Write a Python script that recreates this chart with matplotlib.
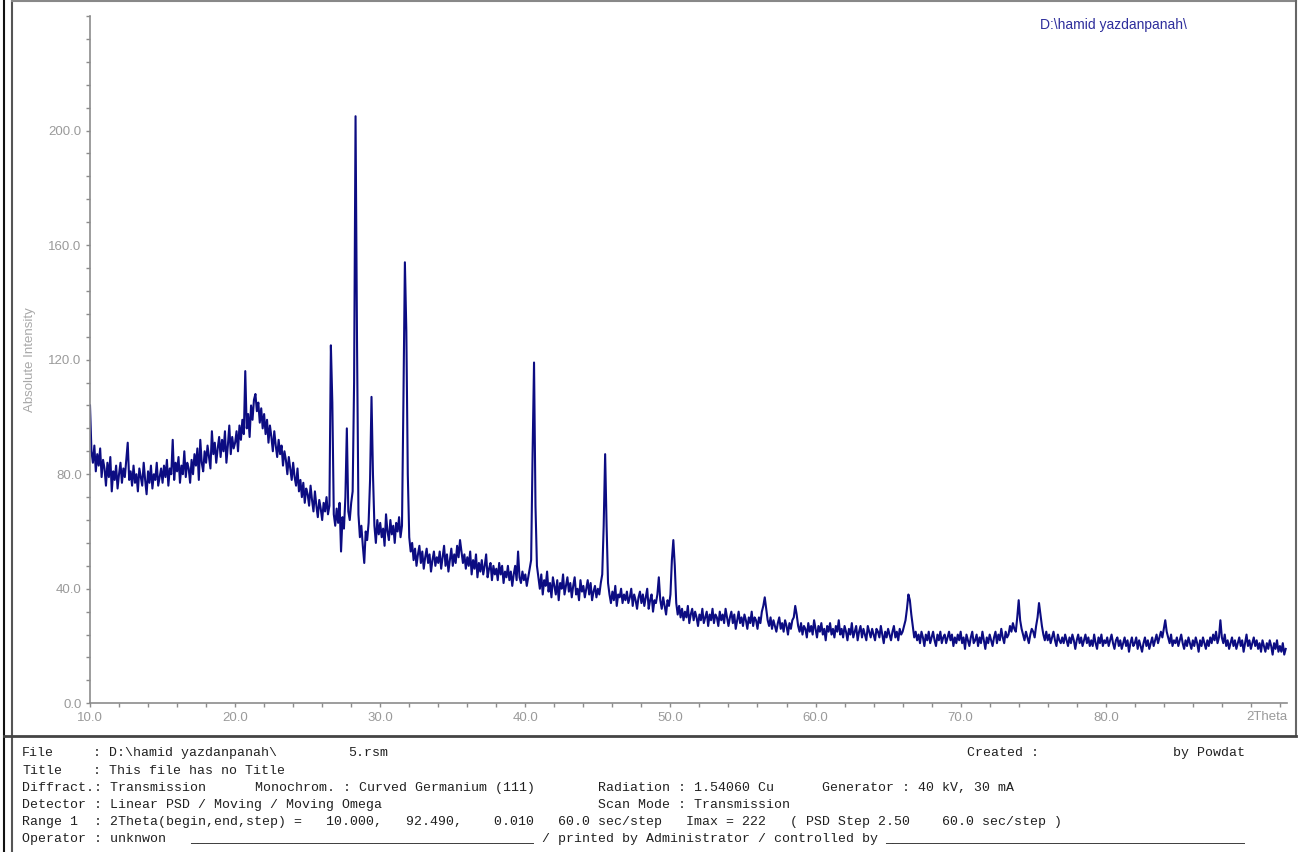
import numpy as np
import matplotlib.pyplot as plt
from matplotlib.ticker import MultipleLocator, FormatStrFormatter
from matplotlib.lines import Line2D

# --- Scan: 2Theta from 10.0 deg, counts read every 0.1 deg ---
START_2THETA = 10.0
STEP_2THETA = 0.1
END_2THETA = 92.49

counts = [
    104, 88, 84, 90, 81, 87, 83, 89, 79, 85,     # 10
    82, 76, 84, 79, 86, 74, 81, 78, 83, 75,      # 11
    80, 84, 77, 82, 79, 85, 91, 78, 81, 76,      # 12
    83, 77, 80, 74, 82, 79, 76, 84, 78, 73,      # 13
    81, 77, 83, 75, 80, 78, 84, 76, 79, 82,      # 14
    77, 83, 79, 85, 76, 82, 80, 92, 78, 84,      # 15
    81, 86, 77, 83, 80, 88, 79, 84, 82, 77,      # 16
    85, 80, 87, 83, 89, 78, 92, 84, 81, 88,      # 17
    84, 90, 86, 82, 95, 87, 91, 84, 89, 93,      # 18
    86, 92, 88, 95, 84, 90, 97, 87, 93, 89,      # 19
    91, 95, 88, 97, 92, 99, 94, 116, 96, 101,    # 20
    93, 104, 99, 106, 108, 102, 105, 98, 103, 96,  # 21
    101, 94, 99, 91, 97, 93, 88, 95, 90, 86,     # 22
    92, 87, 90, 83, 88, 85, 80, 86, 82, 78,      # 23
    84, 79, 76, 82, 74, 78, 72, 77, 70, 75,      # 24
    73, 69, 76, 71, 67, 74, 69, 65, 71, 68,      # 25
    64, 70, 67, 72, 66, 69, 125, 105, 66, 62,    # 26
    68, 63, 70, 53, 65, 61, 72, 96, 67, 64,      # 27
    70, 74, 112, 205, 127, 66, 58, 62, 55, 49,   # 28
    60, 57, 63, 78, 107, 80, 62, 56, 64, 59,     # 29
    63, 58, 61, 55, 66, 60, 57, 64, 59, 62,      # 30
    56, 63, 60, 65, 58, 62, 106, 154, 130, 80,   # 31
    58, 53, 56, 50, 54, 48, 52, 55, 49, 53,      # 32
    47, 51, 54, 49, 52, 46, 50, 53, 48, 51,      # 33
    49, 53, 47, 51, 55, 48, 52, 46, 50, 54,      # 34
    48, 52, 49, 55, 51, 57, 53, 49, 52, 47,      # 35
    51, 48, 53, 45, 50, 47, 52, 44, 49, 46,      # 36
    50, 45, 48, 52, 44, 47, 49, 43, 48, 45,      # 37
    47, 43, 49, 45, 48, 42, 46, 44, 48, 43,      # 38
    46, 41, 45, 48, 43, 53, 44, 42, 46, 43,      # 39
    45, 41, 44, 47, 50, 87, 119, 69, 48, 44,     # 40
    40, 45, 38, 43, 41, 46, 39, 42, 37, 44,      # 41
    41, 38, 43, 36, 42, 40, 45, 38, 41, 44,      # 42
    39, 42, 37, 41, 44, 38, 40, 36, 43, 39,      # 43
    41, 37, 40, 43, 38, 42, 36, 39, 41, 37,      # 44
    40, 38, 42, 45, 62, 87, 62, 42, 38, 35,      # 45
    39, 36, 41, 34, 38, 37, 40, 35, 38, 36,      # 46
    39, 35, 37, 40, 34, 38, 36, 33, 37, 39,      # 47
    35, 38, 34, 37, 40, 33, 36, 38, 32, 36,      # 48
    35, 38, 44, 36, 33, 37, 34, 31, 36, 34,      # 49
    38, 50, 57, 48, 35, 31, 34, 30, 33, 29,      # 50
    32, 30, 34, 28, 31, 33, 29, 32, 30, 27,      # 51
    31, 29, 33, 28, 30, 32, 27, 31, 29, 33,      # 52
    28, 31, 30, 27, 32, 29, 31, 28, 33, 30,      # 53
    27, 30, 32, 28, 31, 26, 29, 32, 28, 30,      # 54
    27, 31, 29, 26, 30, 28, 32, 27, 30, 29,      # 55
    26, 30, 28, 32, 34, 37, 33, 29, 27, 30,      # 56
    26, 29, 27, 25, 28, 30, 26, 28, 25, 29,      # 57
    27, 24, 28, 26, 29, 30, 34, 31, 27, 25,      # 58
    28, 24, 27, 26, 23, 28, 25, 27, 24, 29,      # 59
    26, 23, 27, 25, 28, 24, 26, 22, 27, 25,      # 60
    28, 24, 26, 23, 27, 25, 29, 24, 26, 23,      # 61
    27, 25, 22, 26, 24, 28, 23, 25, 27, 22,      # 62
    25, 27, 23, 26, 24, 22, 27, 25, 23, 26,      # 63
    24, 22, 26, 25, 23, 27, 24, 21, 25, 23,      # 64
    26, 24, 22, 25, 27, 23, 25, 22, 26, 24,      # 65
    25, 27, 29, 33, 38, 36, 31, 27, 23, 25,      # 66
    22, 24, 21, 25, 23, 20, 24, 22, 25, 21,      # 67
    23, 25, 22, 20, 24, 22, 25, 21, 23, 24,      # 68
    21, 23, 25, 22, 24, 20, 23, 21, 24, 22,      # 69
    25, 21, 23, 19, 24, 22, 20, 23, 25, 21,      # 70
    22, 24, 20, 23, 21, 25, 22, 19, 23, 21,      # 71
    24, 22, 20, 23, 25, 21, 24, 22, 26, 23,      # 72
    21, 25, 23, 24, 27, 25, 28, 26, 25, 30,      # 73
    36, 29, 26, 24, 22, 25, 23, 21, 24, 26,      # 74
    25, 23, 27, 30, 35, 31, 27, 24, 22, 25,      # 75
    22, 24, 21, 23, 25, 22, 20, 24, 22, 21,      # 76
    23, 21, 24, 22, 20, 23, 21, 24, 22, 19,      # 77
    22, 24, 21, 23, 20, 22, 24, 21, 23, 20,      # 78
    22, 20, 24, 21, 19, 23, 21, 24, 20, 22,      # 79
    21, 23, 20, 22, 24, 21, 19, 22, 23, 20,      # 80
    22, 19, 21, 23, 20, 22, 18, 21, 23, 20,      # 81
    21, 23, 19, 22, 20, 18, 21, 23, 20, 22,      # 82
    19, 21, 23, 20, 22, 24, 21, 23, 25, 23,      # 83
    26, 29, 25, 23, 21, 24, 20, 22, 21, 23,      # 84
    20, 22, 24, 21, 19, 22, 20, 23, 21, 19,      # 85
    22, 20, 23, 21, 18, 22, 20, 23, 21, 19,      # 86
    22, 20, 23, 21, 24, 22, 25, 21, 23, 29,      # 87
    23, 21, 24, 20, 22, 19, 21, 23, 20, 22,      # 88
    19, 21, 23, 20, 22, 18, 21, 24, 20, 22,      # 89
    19, 21, 23, 20, 22, 19, 21, 18, 22, 20,      # 90
    18, 21, 19, 22, 20, 17, 21, 19, 22, 18,      # 91
    20, 18, 21, 17, 19,                          # 92
]
two_theta = START_2THETA + STEP_2THETA * np.arange(len(counts))

x_tick_values = [10, 20, 30, 40, 50, 60, 70, 80]
y_tick_values = [0, 40, 80, 120, 160, 200]

# --- Header block printed under the pattern: (x pixel, line, text) ---
header_items = [
    (22, 0, "File"), (93, 0, ": D:\\hamid yazdanpanah\\"), (348, 0, "5.rsm"),
    (967, 0, "Created :"), (1173, 0, "by Powdat"),
    (22, 1, "Title"), (93, 1, ": This file has no Title"),
    (22, 2, "Diffract.: Transmission"), (255, 2, "Monochrom. : Curved Germanium (111)"),
    (598, 2, "Radiation : 1.54060 Cu"), (822, 2, "Generator : 40 kV, 30 mA"),
    (22, 3, "Detector : Linear PSD / Moving / Moving Omega"),
    (598, 3, "Scan Mode : Transmission"),
    (22, 4, "Range 1  : 2Theta(begin,end,step) =   10.000,   92.490,    0.010"
            "   60.0 sec/step   Imax = 222   ( PSD Step 2.50    60.0 sec/step )"),
    (22, 5, "Operator : unknwon"), (190, 5, "_" * 43),
    (542, 5, "/ printed by Administrator / controlled by"), (885, 5, "_" * 45),
]
header_line_y = [753, 771, 788, 805, 822, 839]

W, H = 1303, 852
fig = plt.figure(figsize=(W / 100, H / 100), dpi=100)
fig.patch.set_facecolor("white")

def fx(px):
    return px / W

def fy(py):
    return 1 - py / H

# plot area
ax = fig.add_axes([fx(90), fy(703.3), fx(1287) - fx(90), fy(16) - fy(703.3)])
ax.plot(two_theta, counts, color="#0c0c82", lw=1.5)
ax.set_xlim(START_2THETA, END_2THETA)
ax.set_ylim(0, 240)

axis_grey = "#8c8c8c"
label_grey = "#9a9a9a"
for side in ["top", "right"]:
    ax.spines[side].set_visible(False)
for side in ["left", "bottom"]:
    ax.spines[side].set_color(axis_grey)
    ax.spines[side].set_linewidth(1.2)

ax.set_xticks(x_tick_values)
ax.xaxis.set_minor_locator(MultipleLocator(2))
ax.set_yticks(y_tick_values)
ax.yaxis.set_minor_locator(MultipleLocator(8))
ax.xaxis.set_major_formatter(FormatStrFormatter("%.1f"))
ax.yaxis.set_major_formatter(FormatStrFormatter("%.1f"))
ax.tick_params(which="both", length=3, width=1, color=axis_grey,
               labelcolor=label_grey, labelsize=9.5, pad=3)
for lab in ax.get_xticklabels() + ax.get_yticklabels():
    lab.set_family("Liberation Sans")

ax.text(1.0, -0.011, "2Theta", transform=ax.transAxes, ha="right", va="top",
        color=label_grey, fontsize=9.5, family="Liberation Sans")
fig.text(fx(30), fy(360), "Absolute Intensity", rotation=90, ha="center",
         va="center", color="#a8a8a8", fontsize=9.5, family="Liberation Sans")
fig.text(fx(1040), fy(25), "D:\\hamid yazdanpanah\\", ha="left", va="center",
         color="#2e2e9c", fontsize=10, family="Liberation Sans")

# header text
for px, row, txt in header_items:
    fig.text(fx(px), fy(header_line_y[row]), txt, ha="left", va="center",
             family="Liberation Mono", fontsize=9.5, color="#202020")

# frame lines around the printout
frame = [
    ([3.5, 3.5], [0, H], "#111111", 1.5),
    ([12, 12], [0, H], "#555555", 1.5),
    ([12, 1296], [1, 1], "#888888", 1.5),
    ([1296, 1296], [0, 736], "#666666", 1.5),
    ([3.5, 1296], [736, 736], "#444444", 2.0),
]
for xs, ys, c, w in frame:
    fig.add_artist(Line2D([fx(v) for v in xs], [fy(v) for v in ys],
                          color=c, lw=w, transform=fig.transFigure))

fig.savefig("out.png", dpi=100)
